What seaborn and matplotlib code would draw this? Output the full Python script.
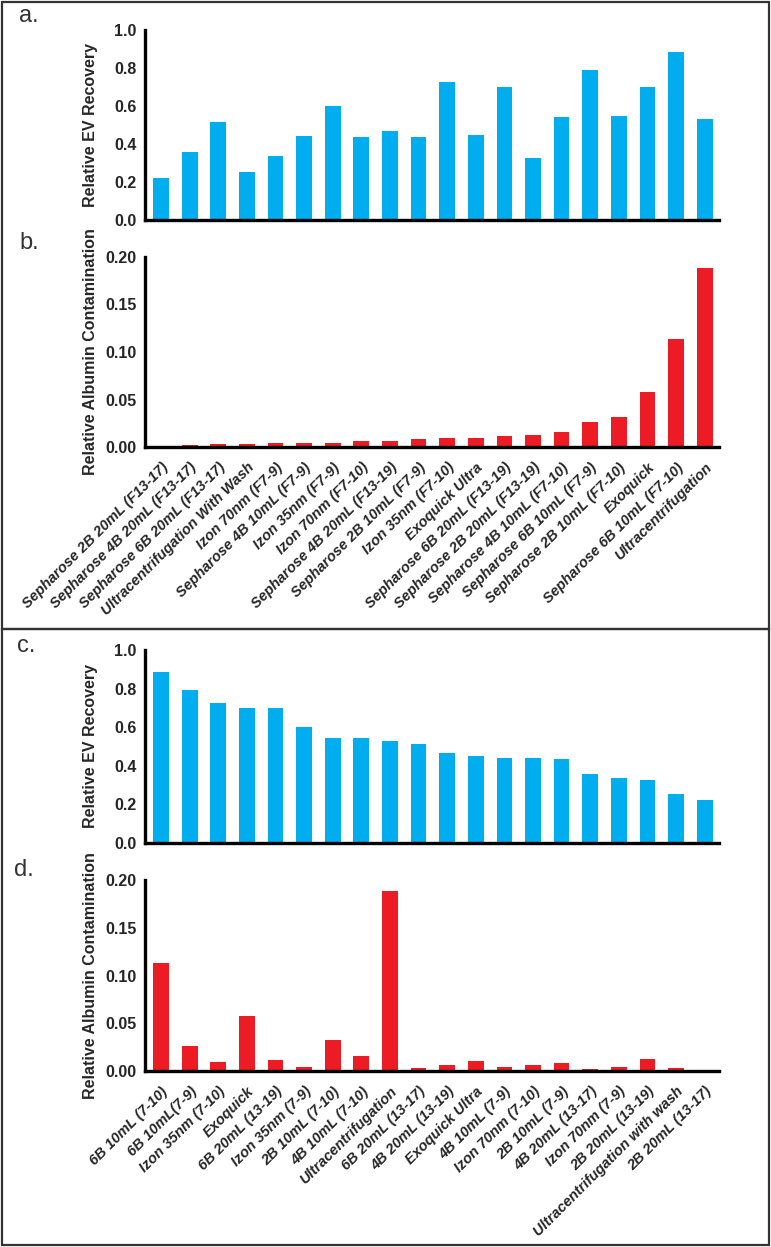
import matplotlib
matplotlib.use('Agg')
import matplotlib.pyplot as plt
import seaborn as sns
import pandas as pd
from matplotlib.patches import Rectangle

# methods in the order of panels a/b (sorted by albumin contamination)
methods = [
    'Sepharose 2B 20mL (F13-17)', 'Sepharose 4B 20mL (F13-17)', 'Sepharose 6B 20mL (F13-17)',
    'Ultracentrifugation With Wash', 'Izon 70nm (F7-9)', 'Sepharose 4B 10mL (F7-9)',
    'Izon 35nm (F7-9)', 'Izon 70nm (F7-10)', 'Sepharose 4B 20mL (F13-19)',
    'Sepharose 2B 10mL (F7-9)', 'Izon 35nm (F7-10)', 'Exoquick Ultra',
    'Sepharose 6B 20mL (F13-19)', 'Sepharose 2B 20mL (F13-19)', 'Sepharose 4B 10mL (F7-10)',
    'Sepharose 6B 10mL (F7-9)', 'Sepharose 2B 10mL (F7-10)', 'Exoquick',
    'Sepharose 6B 10mL (F7-10)', 'Ultracentrifugation',
]
short_names = [
    '2B 20mL (13-17)', '4B 20mL (13-17)', '6B 20mL (13-17)',
    'Ultracentrifugation with wash', 'Izon 70nm (7-9)', '4B 10mL (7-9)',
    'Izon 35nm (7-9)', 'Izon 70nm (7-10)', '4B 20mL (13-19)',
    '2B 10mL (7-9)', 'Izon 35nm (7-10)', 'Exoquick Ultra',
    '6B 20mL (13-19)', '2B 20mL (13-19)', '4B 10mL (7-10)',
    '6B 10mL(7-9)', '2B 10mL (7-10)', 'Exoquick',
    '6B 10mL (7-10)', 'Ultracentrifugation',
]
ev_recovery = [0.222, 0.358, 0.515, 0.255, 0.335, 0.443, 0.600, 0.438, 0.468, 0.436,
               0.724, 0.450, 0.698, 0.328, 0.543, 0.791, 0.546, 0.702, 0.885, 0.529]
albumin = [0.0003, 0.0017, 0.0030, 0.0035, 0.0038, 0.0040, 0.0040, 0.0060, 0.0063, 0.0084,
           0.0094, 0.0100, 0.0115, 0.0122, 0.0160, 0.0260, 0.0320, 0.0580, 0.1136, 0.1880]

BLUE = '#00AEEF'
RED = '#ED1C24'

df = pd.DataFrame({'method': methods, 'short': short_names,
                   'recovery': ev_recovery, 'albumin': albumin})
# panels c/d: sorted by EV recovery
df_sorted = df.sort_values('recovery', ascending=False, kind='stable')

sns.set_theme(style='white')
plt.rcParams['font.family'] = ['Liberation Sans', 'DejaVu Sans']

W, H = 771, 1247
fig = plt.figure(figsize=(W / 100, H / 100), dpi=100)


def make_axes(top, bottom, left=145, right=719):
    return fig.add_axes([left / W, 1 - bottom / H, (right - left) / W, (bottom - top) / H])


def draw_panel(ax, labels, values, color, ymax, step, fmt, ylabel, show_labels):
    sns.barplot(x=labels, y=values, color=color, saturation=1, width=0.55,
                linewidth=0, errorbar=None, ax=ax)
    ax.set_xlim(-0.56, len(labels) - 0.5)
    ax.set_ylim(0, ymax)
    ticks = [i * step for i in range(int(round(ymax / step)) + 1)]
    ax.set_yticks(ticks)
    ax.set_yticklabels([fmt.format(t) for t in ticks], fontsize=11.5, fontweight='bold',
                       family=['Liberation Sans Narrow', 'Liberation Sans'])
    for side in ['top', 'right']:
        ax.spines[side].set_visible(False)
    for side in ['left', 'bottom']:
        ax.spines[side].set_linewidth(2.4)
        ax.spines[side].set_color('black')
    ax.tick_params(axis='y', direction='out', length=5.5, width=2.4, color='black', pad=0.5)
    ax.set_ylabel(ylabel, fontsize=11.5, fontweight='bold')
    ax.yaxis.set_label_coords(-0.082, 0.5)
    ax.set_xlabel('')
    if show_labels:
        ax.set_xticks(range(len(labels)))
        ax.set_xticklabels(labels, rotation=45, ha='right', rotation_mode='anchor',
                           fontsize=10.5, fontweight='bold', fontstyle='italic')
        ax.tick_params(axis='x', direction='out', length=6.5, width=2.4, color='black', pad=3)
    else:
        ax.tick_params(axis='x', length=0, labelbottom=False)


ax_a = make_axes(30, 220)
draw_panel(ax_a, df['method'].tolist(), df['recovery'].tolist(), BLUE, 1.0, 0.2, '{:.1f}',
           'Relative EV Recovery', False)

ax_b = make_axes(257, 447)
draw_panel(ax_b, df['method'].tolist(), df['albumin'].tolist(), RED, 0.2, 0.05, '{:.2f}',
           'Relative Albumin Contamination', True)

ax_c = make_axes(650, 843)
draw_panel(ax_c, df_sorted['short'].tolist(), df_sorted['recovery'].tolist(), BLUE, 1.0, 0.2,
           '{:.1f}', 'Relative EV Recovery', False)

ax_d = make_axes(880, 1071)
draw_panel(ax_d, df_sorted['short'].tolist(), df_sorted['albumin'].tolist(), RED, 0.2, 0.05,
           '{:.2f}', 'Relative Albumin Contamination', True)

# panel letters
for letter, (x, y) in {'a.': (29, 16), 'b.': (29, 243), 'c.': (26, 646), 'd.': (24, 870)}.items():
    fig.text(x / W, 1 - y / H, letter, fontsize=17, ha='center', va='center', color='#333333',
             family=['Liberation Sans Narrow', 'Liberation Sans'])

# boxes around the two figure halves
fig.add_artist(Rectangle((2 / W, 1 - 629 / H), 767 / W, 627 / H, transform=fig.transFigure,
                         fill=False, ec='#333333', lw=1.6))
fig.add_artist(Rectangle((2 / W, 1 - 1245 / H), 767 / W, 616 / H, transform=fig.transFigure,
                         fill=False, ec='#333333', lw=1.6))

fig.savefig('out.png', dpi=100)
